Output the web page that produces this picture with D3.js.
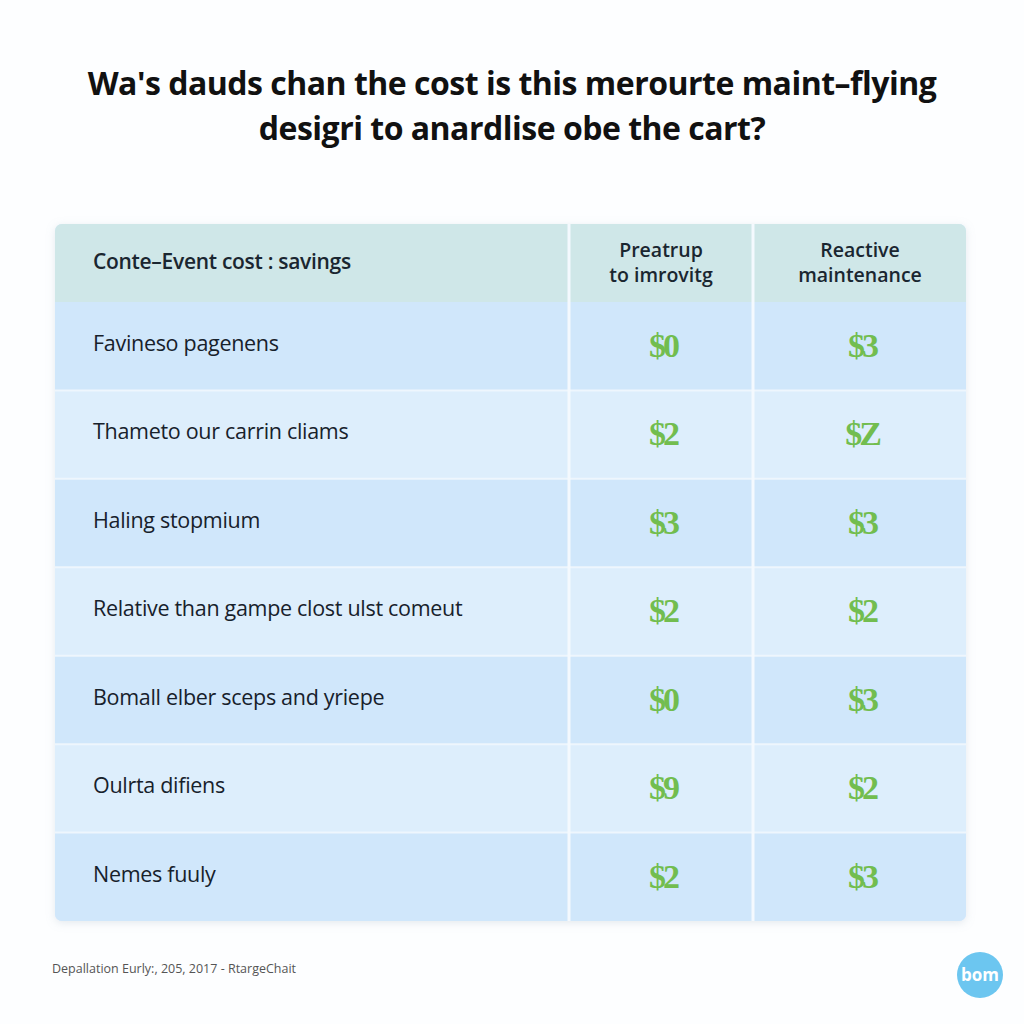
<!DOCTYPE html>
<html><head><meta charset="utf-8">
<script src="https://cdn.jsdelivr.net/npm/d3@7"></script>
<style>html,body{margin:0;padding:0;background:#fdfeff;}svg{display:block;}</style>
</head><body>
<script>
const titleLines = ["Wa's dauds chan the cost is this merourte maint\u2013flying", "desigri to anardlise obe the cart?"];
const headerLabel = "Conte\u2013Event cost : savings";
const columns = [["Preatrup", "to imrovitg"], ["Reactive", "maintenance"]];
const categories = ["Favineso pagenens", "Thameto our carrin cliams", "Haling stopmium", "Relative than gampe clost ulst comeut", "Bomall elber sceps and yriepe", "Oulrta difiens", "Nemes fuuly"];
const preventive = ["$0", "$2", "$3", "$2", "$0", "$9", "$2"];
const reactive = ["$3", "$Z", "$3", "$2", "$3", "$2", "$3"];
const footer = "Depallation Eurly:, 205, 2017 - RtargeChait";
const logoText = "bom";

const W = 1024, H = 1024;
const svg = d3.select("body").append("svg").attr("width", W).attr("height", H);
const defs = svg.append("defs");
const f = defs.append("filter").attr("id","sh").attr("x","-5%").attr("y","-5%").attr("width","110%").attr("height","110%");
f.append("feDropShadow").attr("dx",0).attr("dy",2).attr("stdDeviation",4).attr("flood-color","#9ab").attr("flood-opacity",0.25);

svg.append("rect").attr("width",W).attr("height",H).attr("fill","#fdfeff");

// title
svg.append("g").selectAll("text").data(titleLines).join("text")
  .attr("x", 512).attr("y", (d,i)=> 95 + i*45)
  .attr("text-anchor","middle")
  .attr("font-family","'Open Sans', 'Noto Sans', sans-serif")
  .attr("font-weight",700).attr("font-size",32).attr("fill","#111")
  .attr("letter-spacing", -0.5)
  .text(d=>d);

const tableX0 = 55, tableX1 = 966, headerY0 = 224, headerY1 = 302, tableY1 = 921;
const colEdges = [tableX0, 569, 753, tableX1];

const y = d3.scaleBand().domain(categories).range([headerY1, tableY1]).padding(0);
const colCenter = [661, 860];

// table background with rounded corners
const tbl = svg.append("g");
tbl.append("rect").attr("x",tableX0).attr("y",headerY0).attr("width",tableX1-tableX0).attr("height",tableY1-headerY0)
  .attr("rx",7).attr("fill","#d3e9fb").attr("filter","url(#sh)");
const clip = defs.append("clipPath").attr("id","tc");
clip.append("rect").attr("x",tableX0).attr("y",headerY0).attr("width",tableX1-tableX0).attr("height",tableY1-headerY0).attr("rx",7);
const inner = tbl.append("g").attr("clip-path","url(#tc)");
inner.append("rect").attr("x",tableX0).attr("y",headerY0).attr("width",tableX1-tableX0).attr("height",headerY1-headerY0).attr("fill","#cfe7e8");
inner.selectAll("rect.row").data(categories).join("rect").attr("class","row")
  .attr("x",tableX0).attr("y",d=>y(d)).attr("width",tableX1-tableX0).attr("height",y.bandwidth())
  .attr("fill",(d,i)=> i%2===0 ? "#d0e7fb" : "#ddeefc");
// row separators
inner.selectAll("line.rs").data(categories.slice(1)).join("line").attr("class","rs")
  .attr("x1",tableX0).attr("x2",tableX1).attr("y1",d=>y(d)).attr("y2",d=>y(d))
  .attr("stroke","#eef6fd").attr("stroke-width",2);
// column separators
inner.selectAll("line.cs").data([colEdges[1], colEdges[2]]).join("line").attr("class","cs")
  .attr("x1",d=>d).attr("x2",d=>d).attr("y1",headerY0).attr("y2",tableY1)
  .attr("stroke","#f4f9fe").attr("stroke-width",3);

// header
const font = "'Open Sans', 'Noto Sans', sans-serif";
svg.append("text").attr("x",93).attr("y",269).attr("font-family",font).attr("font-weight",600)
  .attr("font-size",21).attr("fill","#1a2630").attr("letter-spacing",-0.3).text(headerLabel);
columns.forEach((lines,ci)=>{
  svg.append("g").selectAll("text").data(lines).join("text")
    .attr("x",colCenter[ci]).attr("y",(d,i)=> 257 + i*25).attr("text-anchor","middle")
    .attr("font-family",font).attr("font-weight",600).attr("font-size",19.5).attr("fill","#1a2630")
    .attr("letter-spacing",0).text(d=>d);
});

// row labels
svg.append("g").selectAll("text").data(categories).join("text")
  .attr("x",93).attr("y",d=>y(d)+y.bandwidth()/2 - 1).attr("dominant-baseline","middle")
  .attr("font-family",font).attr("font-size",21.5).attr("fill","#17212b").attr("letter-spacing",-0.3)
  .text(d=>d);

// values
[preventive, reactive].forEach((vals,ci)=>{
  svg.append("g").selectAll("text").data(vals).join("text")
    .attr("x",colCenter[ci]+2).attr("y",(d,i)=> y(categories[i]) + y.bandwidth()/2 + 3)
    .attr("text-anchor","middle").attr("dominant-baseline","middle")
    .attr("font-family","'Liberation Serif', 'DejaVu Serif', serif").attr("font-weight",700)
    .attr("font-size",34).attr("fill","#72bd4f").attr("letter-spacing",-3)
    .text(d=>d);
});

// footer
svg.append("text").attr("x",52).attr("y",973).attr("font-family",font).attr("font-size",12.5)
  .attr("fill","#555").text(footer);

// logo
svg.append("circle").attr("cx",980).attr("cy",975).attr("r",23).attr("fill","#6cc6f0");
svg.append("text").attr("x",980).attr("y",976).attr("text-anchor","middle").attr("dominant-baseline","middle")
  .attr("font-family",font).attr("font-weight",700).attr("font-size",17).attr("fill","#fff").text(logoText);
</script>
</body></html>
